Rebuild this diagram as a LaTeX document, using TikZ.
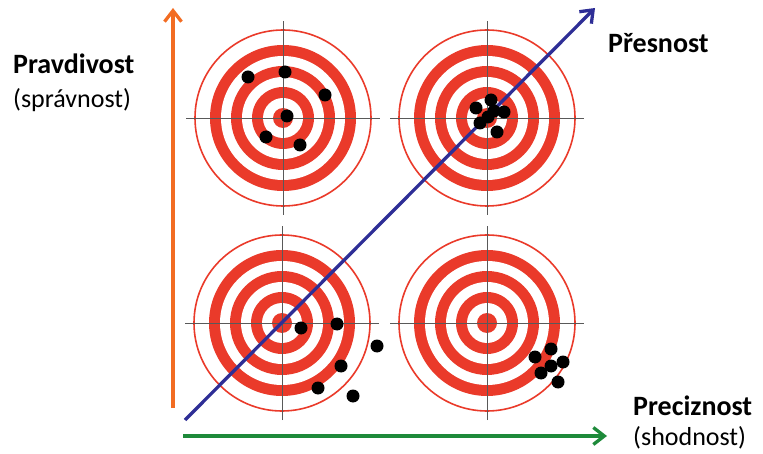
\documentclass[tikz,border=0pt]{standalone}
\usepackage{fontspec}
\setmainfont{Carlito}
\usetikzlibrary{arrows.meta}
\definecolor{ringred}{RGB}{234,58,42}
\definecolor{axorange}{RGB}{242,108,34}
\definecolor{axblue}{RGB}{46,46,150}
\definecolor{axgreen}{RGB}{30,138,58}
\begin{document}
\begin{tikzpicture}[x=1pt, y=-1pt, every node/.style={inner sep=0pt}]
\tikzset{
  axis/.style={line width=3.3pt, -{Straight Barb[length=11pt, width=17pt]}},
  hit/.style={fill=black},
  cross/.style={draw=black!65, line width=0.9pt},
  title/.style={anchor=base west, font=\fontsize{28}{32}\selectfont\bfseries},
  subtitle/.style={anchor=base west, font=\fontsize{26}{30}\selectfont}
}
\useasboundingbox (0,0) rectangle (763,454);

% terce
\coordinate (t1) at (283,118);
\coordinate (t2) at (487,118);
\coordinate (t3) at (282,323);
\coordinate (t4) at (487,323);
\foreach \t in {t1,t2,t3,t4}{
  \draw[ringred, line width=1.6pt] (\t) circle[radius=88pt];
  \fill[ringred] (\t) circle[radius=73pt];
  \fill[white]   (\t) circle[radius=62pt];
  \fill[ringred] (\t) circle[radius=52pt];
  \fill[white]   (\t) circle[radius=41pt];
  \fill[ringred] (\t) circle[radius=31pt];
  \fill[white]   (\t) circle[radius=20pt];
  \fill[ringred] (\t) circle[radius=10pt];
  \draw[cross] ([xshift=-97pt]\t) -- ([xshift=97pt]\t);
  \draw[cross] ([yshift=-97pt]\t) -- ([yshift=97pt]\t);
}

% zasahy
\foreach \p in {(248,77),(285,72),(325,95),(287,116),(266,137),(300,145)}
  \fill[hit] \p circle[radius=6.5pt];
\foreach \p in {(551,349),(535,357),(563,362),(551,366),(541,373),(558,382)}
  \fill[hit] \p circle[radius=6.5pt];
\foreach \p in {(301,328),(337,324),(377,346),(341,366),(318,388),(353,396)}
  \fill[hit] \p circle[radius=6.5pt];

% osy
\coordinate (o1) at (173,408);
\coordinate (o2) at (173,8);
\coordinate (d1) at (185,420);
\coordinate (d2) at (595,8);
\coordinate (h1) at (183,436);
\coordinate (h2) at (607,436);
\draw[axis, axorange] (o1) -- (o2);
\draw[axis, axgreen] (h1) -- (h2);
\draw[axis, axblue] (d1) -- (d2);

% shluk v presnosti az nad osou
\foreach \p in {(476,108),(491,100),(504,112),(480,123),(488,117),(497,132),(494,111)}
  \fill[hit] \p circle[radius=6.5pt];

\node[title] (pravd) at (13,74) {Pravdivost};
\node[subtitle] (sprav) at (13,108) {(správnost)};
\node[title] (presn) at (608,53) {Přesnost};
\node[title] (preciz) at (633,415) {Preciznost};
\node[subtitle] (shod) at (633,445) {(shodnost)};
\end{tikzpicture}
\end{document}
